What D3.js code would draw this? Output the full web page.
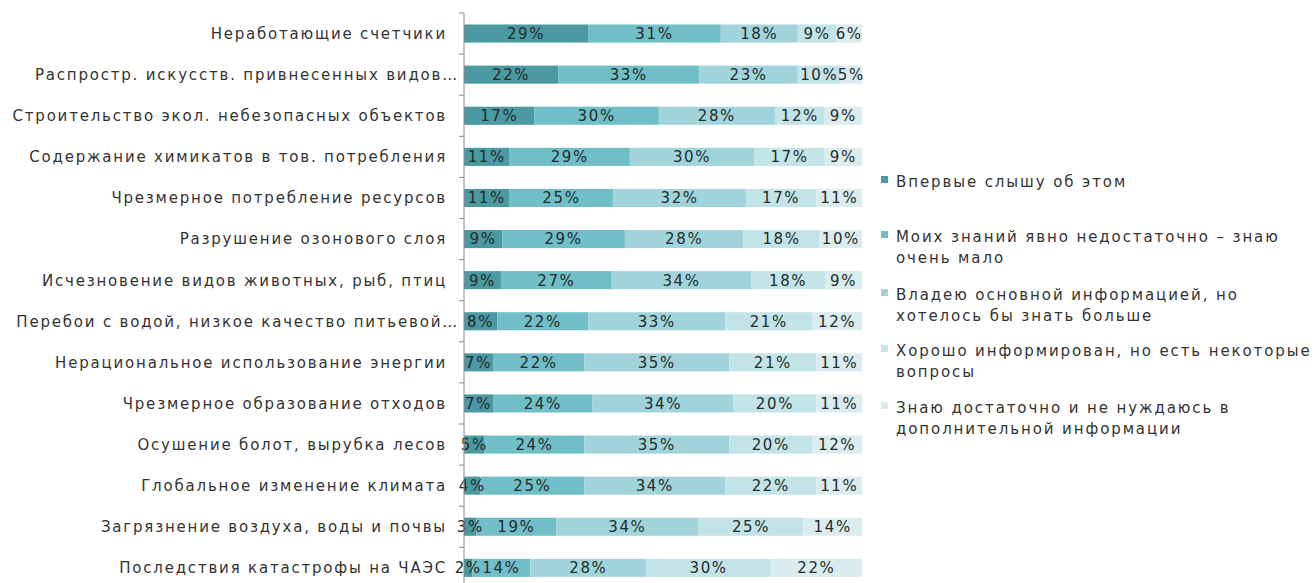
<!DOCTYPE html>
<html><head><meta charset="utf-8">
<script src="https://cdn.jsdelivr.net/npm/d3@7"></script>
<style>
html,body{margin:0;padding:0;background:#fff;}
svg text{font-family:"DejaVu Sans",Verdana,sans-serif;}
</style></head>
<body>
<svg id="chart" width="1314" height="583"></svg>
<script>
const categories = [
  "Неработающие счетчики",
  "Распростр. искусств. привнесенных видов…",
  "Строительство экол. небезопасных объектов",
  "Содержание химикатов в тов. потребления",
  "Чрезмерное потребление ресурсов",
  "Разрушение озонового слоя",
  "Исчезновение видов животных, рыб, птиц",
  "Перебои с водой, низкое качество питьевой…",
  "Нерациональное использование энергии",
  "Чрезмерное образование отходов",
  "Осушение болот, вырубка лесов",
  "Глобальное изменение климата",
  "Загрязнение воздуха, воды и почвы",
  "Последствия катастрофы на ЧАЭС"
];
const seriesNames = [
  "Впервые слышу об этом",
  "Моих знаний явно недостаточно – знаю очень мало",
  "Владею основной информацией, но хотелось бы знать больше",
  "Хорошо информирован, но есть некоторые вопросы",
  "Знаю достаточно и не нуждаюсь в дополнительной информации"
];
const legendLines = [
  ["Впервые слышу об этом"],
  ["Моих знаний явно недостаточно – знаю", "очень мало"],
  ["Владею основной информацией, но", "хотелось бы знать больше"],
  ["Хорошо информирован, но есть некоторые", "вопросы"],
  ["Знаю достаточно и не нуждаюсь в", "дополнительной информации"]
];
const s1 = [29,22,17,11,11,9,9,8,7,7,5,4,3,2];
const s2 = [31,33,30,29,25,29,27,22,22,24,24,25,19,14];
const s3 = [18,23,28,30,32,28,34,33,35,34,35,34,34,28];
const s4 = [9,10,12,17,17,18,18,21,21,20,20,22,25,30];
const s5 = [6,5,9,9,11,10,9,12,11,11,12,11,14,22];
const colors = ["#4b99a2","#70bec7","#a1d4da","#c2e3e7","#dbecef"];

const seriesArr = [s1,s2,s3,s4,s5];
const rows = categories.map((c,i)=>{
  const o = {cat:c};
  seriesNames.forEach((n,j)=>o[n]=seriesArr[j][i]);
  return o;
});

const svg = d3.select("#chart");
const x0 = 464, x1 = 862, yTop = 13, band = 41.1;
const x = d3.scaleLinear().domain([0,1]).range([x0,x1]);
const y = d3.scaleBand().domain(categories).range([yTop, yTop + band*categories.length]).paddingInner(0.56).paddingOuter(0.28);
const color = d3.scaleOrdinal().domain(seriesNames).range(colors);

const stack = d3.stack().keys(seriesNames).offset(d3.stackOffsetExpand);
const stacked = stack(rows);

const g = svg.append("g");
stacked.forEach(layer=>{
  const lg = g.append("g");
  lg.selectAll("rect").data(layer).join("rect")
    .attr("x", d=>x(d[0]))
    .attr("width", d=>x(d[1])-x(d[0]))
    .attr("y", d=>y(d.data.cat))
    .attr("height", y.bandwidth())
    .attr("fill", color(layer.key));
});
stacked.forEach(layer=>{
  g.append("g").selectAll("text").data(layer).join("text")
    .attr("x", d=>(x(d[0])+x(d[1]))/2)
    .attr("y", d=>y(d.data.cat)+y.bandwidth()/2)
    .attr("dy","0.36em")
    .attr("text-anchor","middle")
    .attr("font-size",15)
    .attr("letter-spacing","1.6px")
    .attr("fill","#232b2b")
    .text(d=>d.data[layer.key]+"%");
});

// axis
const yAxisScale = d3.scaleLinear().domain([0,categories.length]).range([yTop, yTop+band*categories.length]);
svg.append("line").attr("x1",x0).attr("x2",x0).attr("y1",yTop).attr("y2",yTop+band*categories.length).attr("stroke","#8a8a8a");
svg.append("g").selectAll("line").data(d3.range(categories.length+1)).join("line")
  .attr("x1",x0-5).attr("x2",x0).attr("y1",d=>yAxisScale(d)).attr("y2",d=>yAxisScale(d)).attr("stroke","#8a8a8a");
svg.append("g").selectAll("text").data(categories).join("text")
  .attr("x",d=>d.endsWith("…") ? 459 : 447)
  .attr("y",d=>y(d)+y.bandwidth()/2)
  .attr("dy","0.36em")
  .attr("text-anchor","end")
  .attr("font-size",15)
  .attr("letter-spacing","1.8px")
  .attr("fill","#333")
  .text(d=>d);

// legend
const legY = [182,237,295,351,408];
const lg = svg.append("g");
legendLines.forEach((lines,i)=>{
  lg.append("rect").attr("x",881).attr("y",legY[i]-6).attr("width",7).attr("height",7).attr("fill",colors[i]);
  lines.forEach((t,k)=>{
    lg.append("text").attr("x",896).attr("y",legY[i]+k*21).attr("dy","0.36em")
      .attr("font-size",15).attr("letter-spacing","1.9px").attr("fill","#333").text(t);
  });
});
</script>
</body></html>
